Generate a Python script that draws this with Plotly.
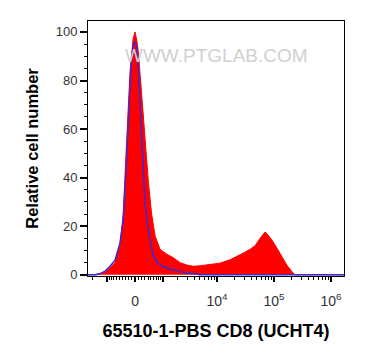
import numpy as np
import plotly.graph_objects as go

# Biexponential (arcsinh) display scale cofactor
COFACTOR = 730.0

# Histogram bins in display (arcsinh) units, with relative cell counts
red_x = [-1.90, -1.54, -1.21, -1.01, -0.81, -0.61, -0.48, -0.34, -0.20, -0.08, 0.00, 0.08, 0.13,
         0.27, 0.40, 0.54, 0.67, 0.81, 1.01, 1.28, 1.55, 1.82, 2.09, 2.36, 2.63, 3.03, 3.43,
         3.84, 4.11, 4.38, 4.65, 4.85, 5.05, 5.18, 5.25, 5.32, 5.52, 5.73, 5.93, 6.13, 6.33,
         6.46, 8.44]
red_y = [0, 0, 1, 3, 5, 12, 25, 55, 84, 97, 100, 96, 92,
         74, 55, 38, 25, 16, 10.5, 8.5, 7, 5, 4, 3.5, 3.7, 4.1, 4.8,
         6.2, 7.5, 9, 10.5, 12, 15, 17, 17.6, 17, 14.4, 11, 7.5, 4, 1.4,
         0, 0]

blue_x = [-1.90, -1.62, -1.41, -1.21, -1.01, -0.81, -0.61, -0.48, -0.40, -0.32, -0.24, -0.16,
          -0.08, 0.00, 0.08, 0.16, 0.24, 0.32, 0.40, 0.48, 0.61, 0.73, 0.89, 1.13, 1.41,
          1.70, 1.94, 2.22, 2.63, 8.44]
blue_y = [0, 0, 0.5, 1.5, 3.5, 6, 13, 22, 35, 52, 70, 86,
          94, 96, 93, 80, 62, 45, 30, 22, 14, 8, 5, 3.5, 2.3,
          1.8, 1, 0.5, 0, 0]

x_major_vals = [0, 1e4, 1e5, 1e6]
x_major_text = ["0", "10<sup>4</sup>", "10<sup>5</sup>", "10<sup>6</sup>"]
x_unlabeled_vals = [-1e3, 1e3]
y_tick_vals = [0, 20, 40, 60, 80, 100]


def biex(v):
    return np.arcsinh(np.asarray(v, dtype=float) / COFACTOR)


minor_raw = [s * m for s in (-1, 1) for m in range(100, 1000, 100)]
minor_raw += [-m * 1000 for m in range(2, 10)]
for dec in (1e3, 1e4, 1e5):
    minor_raw += [m * dec for m in range(2, 10)]

fig = go.Figure()
fig.add_trace(go.Scatter(
    x=red_x, y=red_y, mode="lines", fill="tozeroy",
    line=dict(color="#ff0000", width=1), fillcolor="#ff0000",
    hoverinfo="skip", showlegend=False))
fig.add_trace(go.Scatter(
    x=blue_x, y=blue_y, mode="lines",
    line=dict(color="#3a2ad0", width=1.5),
    hoverinfo="skip", showlegend=False))

tickvals = list(biex(x_major_vals)) + list(biex(x_unlabeled_vals))
ticktext = x_major_text + [""] * len(x_unlabeled_vals)

fig.update_layout(
    width=365, height=360,
    margin=dict(l=80, r=29, t=13, b=92),
    paper_bgcolor="white", plot_bgcolor="white",
    font=dict(family="Liberation Sans, Arial, sans-serif", color="#333333", size=13),
    xaxis=dict(
        range=[-1.90, 8.44], tickmode="array", tickvals=tickvals, ticktext=ticktext,
        ticks="outside", ticklen=5, tickwidth=1.5, tickcolor="black",
        showline=True, linecolor="black", linewidth=1, mirror=True,
        showgrid=False, zeroline=False,
        tickfont=dict(size=14, color="#333333"), ticklabelstandoff=7,
        minor=dict(tickmode="array", tickvals=list(biex(minor_raw)), ticks="outside",
                   ticklen=3, tickwidth=1, tickcolor="black", showgrid=False),
        title=dict(text="<b>65510-1-PBS CD8 (UCHT4)</b>", standoff=16,
                   font=dict(size=18, color="black")),
    ),
    yaxis=dict(
        range=[-0.5, 104.5], tickmode="array", tickvals=y_tick_vals,
        ticks="outside", ticklen=7, tickwidth=1.5, tickcolor="black",
        showline=True, linecolor="black", linewidth=1, mirror=True,
        showgrid=False, zeroline=False,
        tickfont=dict(size=13, color="#333333"),
        minor=dict(dtick=5, tick0=0, ticks="outside", ticklen=3, tickwidth=1,
                   tickcolor="black", showgrid=False),
        title=dict(text="<b>Relative cell number</b>", standoff=12,
                   font=dict(size=16.5, color="black")),
    ),
    annotations=[dict(
        text="WWW.PTGLAB.COM", xref="paper", yref="paper", x=0.5, y=0.914,
        showarrow=False, font=dict(size=19, color="#d0d0d0"))],
)

fig.write_html("out.html")
